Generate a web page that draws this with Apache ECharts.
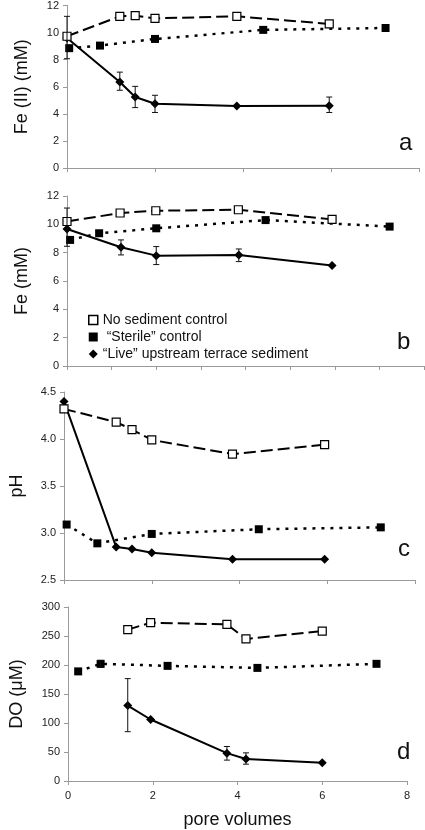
<!DOCTYPE html>
<html><head><meta charset="utf-8">
<script src="https://cdn.jsdelivr.net/npm/echarts@6/dist/echarts.min.js"></script>
<style>html,body{margin:0;padding:0;background:#fff}#c{width:425px;height:830px}</style>
</head><body><div id="c"></div>
<script>
// ---------- data ----------
const seriesNames = ['No sediment control', '\u201cSterile\u201d control', '\u201cLive\u201d upstream terrace sediment'];
const legendLabels = ['No sediment control', ' \u201cSterile\u201d control', '\u201cLive\u201d upstream terrace sediment'];
const panelLetters = ['a', 'b', 'c', 'd'];
const yNames = ['Fe (II) (mM)', 'Fe (mM)', 'pH', 'DO (\u03bcM)'];
const xName = 'pore volumes';

// panel a: Fe(II)
const aNoSed   = [[0, 9.73], [1.2, 11.2], [1.55, 11.25], [2.0, 11.05], [3.86, 11.2], [5.96, 10.64]];
const aSterile = [[0.05, 8.85], [0.75, 9.04], [2.0, 9.53], [4.46, 10.2], [7.24, 10.34]];
const aLive    = [[0, 9.6], [1.2, 6.35], [1.55, 5.24], [2.0, 4.75], [3.86, 4.58], [5.96, 4.6]];
const aLiveErr = [[0, 8.07, 11.2], [1.2, 5.74, 7.08], [1.55, 4.46, 6.03], [2.0, 4.1, 5.37], [5.96, 4.1, 5.24]];

// panel b: Fe total
const bNoSed   = [[0, 10.2], [1.19, 10.8], [1.99, 10.96], [3.84, 11.03], [5.94, 10.35]];
const bSterile = [[0.07, 8.9], [0.72, 9.37], [2.0, 9.72], [4.45, 10.3], [7.23, 9.84]];
const bLive    = [[0, 9.67], [1.21, 8.38], [2.0, 7.79], [3.85, 7.84], [5.94, 7.09]];
const bLiveErr = [[0, 8.45, 11.15], [1.21, 7.84, 8.9], [2.0, 7.16, 8.43], [3.85, 7.37, 8.26]];

// panel c: pH
const cNoSed   = [[0, 4.32], [1.19, 4.18], [1.55, 4.1], [2.0, 3.99], [3.84, 3.84], [5.94, 3.94]];
const cSterile = [[0.06, 3.09], [0.76, 2.89], [2.0, 2.99], [4.44, 3.04], [7.22, 3.06]];
const cLive    = [[0, 4.40], [1.19, 2.85], [1.55, 2.83], [2.0, 2.79], [3.84, 2.72], [5.94, 2.72]];
const cLiveErr = [];

// panel d: DO
const dNoSed   = [[1.41, 261], [1.95, 273], [3.75, 270], [4.2, 245], [6.0, 258.5]];
const dSterile = [[0.24, 189], [0.77, 202], [2.35, 198.5], [4.47, 195], [7.28, 202]];
const dLive    = [[1.41, 130], [1.95, 106], [3.75, 48], [4.2, 38], [6.0, 31.5]];
const dLiveErr = [[1.41, 85, 176.5], [3.75, 36, 59.5], [4.2, 29, 48.5], [0.77, 196, 208]];

// axis ranges / ticks
const yMin = [0, 0, 2.5, 0];
const yMax = [12, 12, 4.5, 300];
const yStep = [2, 2, 0.5, 50];
const xMin = 0, xMax = 8;
const xStep = [2, 1, 2, 2];

const panels = [
  [aNoSed, aSterile, aLive, aLiveErr],
  [bNoSed, bSterile, bLive, bLiveErr],
  [cNoSed, cSterile, cLive, cLiveErr],
  [dNoSed, dSterile, dLive, dLiveErr]
];

// ---------- layout ----------
const FONT = 'Liberation Sans, Arial, Helvetica, sans-serif';
const grids = [
  {left: 67, right: 6, top: 5, height: 163},
  {left: 67, right: 1, top: 196, height: 170},
  {left: 63, right: 10, top: 392, height: 188},
  {left: 66, right: 18, top: 607, height: 175}
];
const axisGray = '#9a9a9a';

const xAxes = grids.map((g, i) => ({
  type: 'value', gridIndex: i, min: xMin, max: xMax, interval: xStep[i],
  axisLine: {show: true, lineStyle: {color: axisGray, width: 1}},
  axisTick: {show: true, length: 4, lineStyle: {color: axisGray}},
  splitLine: {show: false},
  axisLabel: {show: i === 3, color: '#222', fontSize: 11, fontFamily: FONT, margin: 9},
  name: i === 3 ? xName : '', nameLocation: 'middle', nameGap: 30,
  nameTextStyle: {fontSize: 18, color: '#111', fontFamily: FONT}
}));
const yAxes = grids.map((g, i) => ({
  type: 'value', gridIndex: i, min: yMin[i], max: yMax[i], interval: yStep[i],
  axisLine: {show: true, lineStyle: {color: axisGray, width: 1}},
  axisTick: {show: true, length: 4, lineStyle: {color: axisGray}},
  splitLine: {show: false},
  axisLabel: {color: '#222', fontSize: 11, fontFamily: FONT, margin: 8,
    formatter: v => i === 2 ? v.toFixed(1) : String(v)},
  name: yNames[i], nameLocation: 'middle', nameGap: i === 2 ? 38 : (i === 3 ? 42 : 36),
  nameTextStyle: {fontSize: 18, color: '#111', fontFamily: FONT}
}));

function errRender(params, api) {
  const x = api.value(0), lo = api.value(1), hi = api.value(2);
  const p1 = api.coord([x, lo]), p2 = api.coord([x, hi]);
  const w = 3;
  const st = {stroke: '#111', lineWidth: 1};
  return {type: 'group', children: [
    {type: 'line', shape: {x1: p1[0], y1: p1[1], x2: p2[0], y2: p2[1]}, style: st},
    {type: 'line', shape: {x1: p1[0] - w, y1: p1[1], x2: p1[0] + w, y2: p1[1]}, style: st},
    {type: 'line', shape: {x1: p2[0] - w, y1: p2[1], x2: p2[0] + w, y2: p2[1]}, style: st}
  ]};
}

const series = [];
panels.forEach((p, i) => {
  series.push({
    name: seriesNames[2], type: 'line', xAxisIndex: i, yAxisIndex: i, data: p[2],
    symbol: 'diamond', symbolSize: 9, z: 3, animation: false,
    lineStyle: {color: '#000', width: 2}, itemStyle: {color: '#000'}
  });
  series.push({
    name: seriesNames[1], type: 'line', xAxisIndex: i, yAxisIndex: i, data: p[1],
    symbol: 'rect', symbolSize: 8, z: 4, animation: false,
    lineStyle: {color: '#000', width: 2.5, type: [3, 6]}, itemStyle: {color: '#000'}
  });
  series.push({
    name: seriesNames[0], type: 'line', xAxisIndex: i, yAxisIndex: i, data: p[0],
    symbol: 'rect', symbolSize: 8, z: 5, animation: false,
    lineStyle: {color: '#000', width: 2, type: [12, 5]},
    itemStyle: {color: '#fff', borderColor: '#000', borderWidth: 1.2}
  });
  if (p[3].length) series.push({
    type: 'custom', xAxisIndex: i, yAxisIndex: i, data: p[3], renderItem: errRender,
    z: 6, animation: false, silent: true
  });
});

const letterPos = [[407, 146], [405, 345], [406, 552], [405, 755]];
const graphic = panelLetters.map((t, i) => ({
  type: 'text', left: letterPos[i][0] - 8, top: letterPos[i][1] - 15,
  style: {text: t, fontSize: 24, fill: '#111', fontFamily: FONT}
}));

const chart = echarts.init(document.getElementById('c'), null, {renderer: 'canvas'});
chart.setOption({
  backgroundColor: '#fff',
  animation: false,
  grid: grids,
  xAxis: xAxes,
  yAxis: yAxes,
  series: series,
  graphic: graphic,
  legend: {
    orient: 'vertical', left: 83, top: 308, itemWidth: 9, itemHeight: 9, itemGap: 3,
    textStyle: {fontSize: 14, color: '#111', fontFamily: FONT},
    formatter: name => legendLabels[seriesNames.indexOf(name)],
    data: [
      {name: seriesNames[0], icon: 'rect', itemStyle: {color: '#fff', borderColor: '#000', borderWidth: 1.5}},
      {name: seriesNames[1], icon: 'rect', itemStyle: {color: '#000'}},
      {name: seriesNames[2], icon: 'diamond', itemStyle: {color: '#000'}}
    ],
    selectedMode: false
  }
});
</script></body></html>
